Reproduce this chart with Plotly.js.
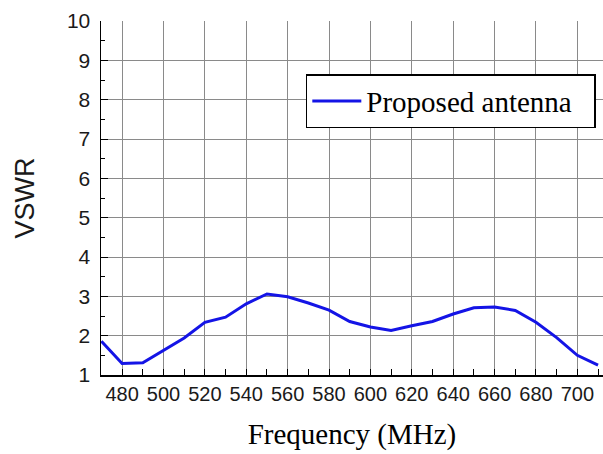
<!DOCTYPE html>
<html>
<head>
<meta charset="utf-8">
<script src="https://cdn.plot.ly/plotly-3.0.1.min.js"></script>
<style>html,body{margin:0;padding:0;background:#fff;}#chart{width:603px;height:454px;}</style>
</head>
<body>
<div id="chart"></div>
<script>
const frequency = [470,480,490,500,510,520,530,540,550,560,570,580,590,600,610,620,630,640,650,660,670,680,690,700,710];
const vswr = [1.86,1.29,1.31,1.62,1.94,2.34,2.47,2.81,3.06,2.99,2.83,2.65,2.36,2.22,2.13,2.25,2.36,2.55,2.71,2.73,2.64,2.34,1.95,1.50,1.25];
const seriesName = 'Proposed antenna';
const xTitle = 'Frequency (MHz)';
const yTitle = 'VSWR';

const trace = {
  x: frequency, y: vswr, name: seriesName, type: 'scatter', mode: 'lines',
  line: {color: '#1414e6', width: 3}
};
const layout = {
  width: 603, height: 454,
  margin: {l: 101, r: 0, t: 21, b: 79, autoexpand: false},
  paper_bgcolor: '#fff', plot_bgcolor: '#fff',
  showlegend: true,
  legend: {x: 0.408, y: 0.85, xanchor: 'left', yanchor: 'top',
    orientation: 'h', entrywidth: 223, itemwidth: 49,
    bordercolor: '#000', borderwidth: 1.5, bgcolor: '#fff',
    font: {family: 'Liberation Serif, Times New Roman, serif', size: 29, color: '#000'}},
  xaxis: {
    range: [469.8, 712.4], dtick: 20, tick0: 480, tickangle: 0,
    showgrid: true, gridcolor: '#8a8a8a', gridwidth: 1,
    ticks: 'inside', ticklen: 6, tickcolor: '#000',
    minor: {dtick: 10, tick0: 470, ticks: 'inside', ticklen: 6, tickcolor: '#000', showgrid: false},
    showline: true, linecolor: '#000', linewidth: 1.5, zeroline: false,
    tickfont: {family: 'Liberation Sans, Arial, sans-serif', size: 20, color: '#1a1a1a'},
    title: {text: xTitle, standoff: 20, font: {family: 'Liberation Serif, Times New Roman, serif', size: 29, color: '#000'}}
  },
  yaxis: {
    range: [1, 10], dtick: 1,
    showgrid: true, gridcolor: '#8a8a8a', gridwidth: 1,
    ticks: 'inside', ticklen: 7, tickcolor: '#000',
    minor: {dtick: 0.5, ticks: 'inside', ticklen: 4, tickcolor: '#000', showgrid: false},
    showline: true, linecolor: '#000', linewidth: 1.5, zeroline: false,
    ticklabelstandoff: 5,
    tickfont: {family: 'Liberation Sans, Arial, sans-serif', size: 21, color: '#1a1a1a'},
    title: {text: yTitle, standoff: 24, font: {family: 'Liberation Sans, Arial, sans-serif', size: 27, color: '#1a1a1a'}}
  }
};
Plotly.newPlot('chart', [trace], layout, {displayModeBar: false, staticPlot: true});
</script>
</body>
</html>
